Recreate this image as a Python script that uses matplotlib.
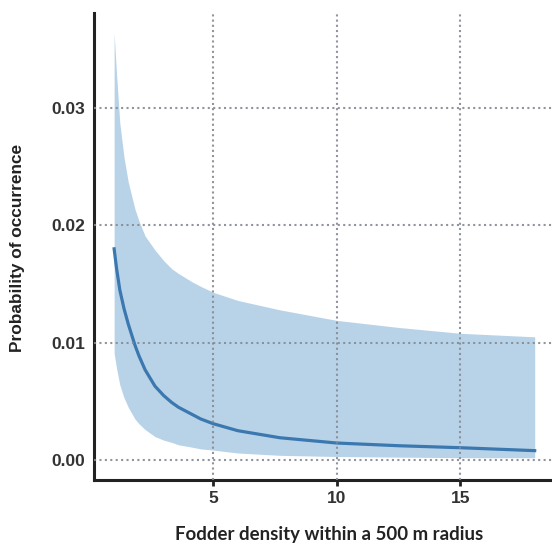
import numpy as np
import matplotlib.pyplot as plt

# Fitted probability of occurrence vs fodder density, with confidence band
density = [1.0, 1.1, 1.23, 1.4, 1.57, 1.84, 2.0, 2.25, 2.65, 3.0, 3.33, 3.6, 4.14,
           4.5, 5.0, 6.0, 7.7, 10.0, 12.5, 15.0, 18.0]
prob = [0.0180, 0.0163, 0.0145, 0.0129, 0.0116, 0.0098, 0.0089, 0.0077, 0.0063,
        0.0055, 0.0049, 0.0045, 0.0039, 0.0035, 0.0031, 0.0025, 0.0019, 0.00145,
        0.00122, 0.00105, 0.0008]
lower = [0.0091, 0.0078, 0.0064, 0.0053, 0.0045, 0.0035, 0.0031, 0.0026, 0.0020,
         0.0017, 0.0015, 0.0013, 0.0011, 0.00095, 0.00085, 0.0006, 0.0004, 0.0003,
         0.00025, 0.0002, 0.0002]
upper = [0.0364, 0.0328, 0.0287, 0.0258, 0.0237, 0.0214, 0.0204, 0.0191, 0.0179,
         0.0170, 0.0163, 0.0159, 0.0152, 0.0148, 0.0143, 0.0136, 0.0128, 0.0119,
         0.0113, 0.0108, 0.0105]

xticks = [5, 10, 15]
yticks = [0.00, 0.01, 0.02, 0.03]

fig = plt.figure(figsize=(5.52, 5.54), dpi=100)
ax = fig.add_axes([0.170, 0.1336, 0.830, 0.843])

ax.fill_between(density, lower, upper, color='#b8d3e8', linewidth=0, zorder=2)
ax.plot(density, prob, color='#3b78b0', linewidth=2.3, zorder=3,
        solid_joinstyle='round')

ax.set_xlim(0.18, 18.7)
ax.set_ylim(-0.0017, 0.0381)
ax.set_xticks(xticks)
ax.set_yticks(yticks)
ax.set_xticklabels([str(t) for t in xticks])
ax.set_yticklabels(['%.2f' % t for t in yticks])

# dotted reference lines at the ticks
for v in xticks:
    ax.axvline(v, color='#858a90', linestyle=(0, (1, 1.5)), linewidth=1.5, zorder=4, alpha=0.9)
for v in yticks:
    ax.axhline(v, color='#858a90', linestyle=(0, (1, 1.6)), linewidth=1.5, zorder=4, alpha=0.9)

for side in ['top', 'right']:
    ax.spines[side].set_visible(False)
for side in ['left', 'bottom']:
    ax.spines[side].set_linewidth(2.2)
    ax.spines[side].set_color('#222222')

ax.tick_params(axis='x', length=4, width=2, color='#222222', pad=4)
ax.tick_params(axis='y', length=0, pad=6)
for lab in ax.get_xticklabels() + ax.get_yticklabels():
    lab.set_fontfamily('Liberation Sans')
    lab.set_fontweight('bold')
    lab.set_fontsize(12.5)
    lab.set_color('#333333')

fig.text(0.597, 0.02, 'Fodder density within a 500 m radius', ha='center', va='bottom',
         fontfamily='Lato', fontweight='bold', fontsize=13.4, color='#222222')
fig.text(0.032, 0.552, 'Probability of occurrence', ha='center', va='center', rotation=90,
         fontfamily='Liberation Sans', fontweight='bold', fontsize=12.4, color='#222222')

fig.savefig('out.png', dpi=100)
